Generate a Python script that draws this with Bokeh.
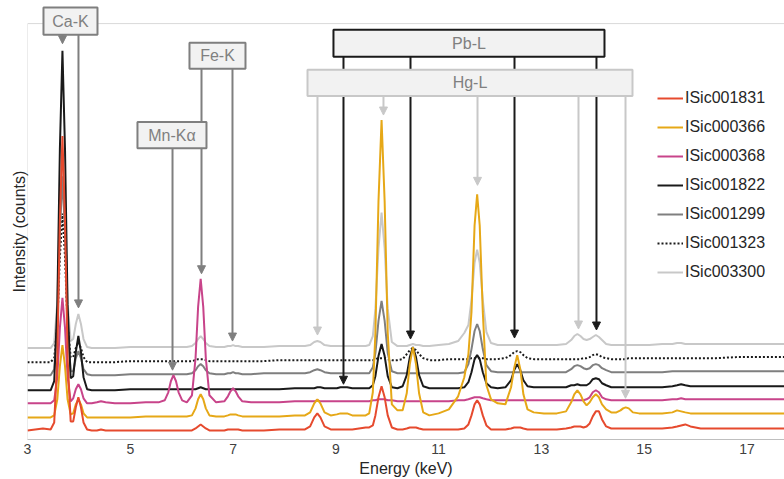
from bokeh.plotting import figure
from bokeh.models import Range1d, FixedTicker, Legend, LegendItem, Arrow, NormalHead, Title
from bokeh.core.properties import value
from bokeh.embed import file_html
from bokeh.resources import INLINE

# ---------------- data ----------------
energy_kev = [
    3.0, 3.15, 3.3, 3.45,
    3.52, 3.58, 3.63, 3.68, 3.73, 3.78,
    3.84, 3.89, 3.94, 3.99, 4.04, 4.09, 4.16,
    4.25, 4.35, 4.43, 4.52, 4.7, 5.0, 5.3, 5.55,
    5.67, 5.74, 5.79, 5.84, 5.89, 5.94, 6.01,
    6.1, 6.2, 6.27, 6.32, 6.37, 6.42, 6.47, 6.54,
    6.67, 6.83, 6.9, 6.95, 7.0, 7.05, 7.1, 7.18,
    7.35, 7.6, 7.9, 8.2, 8.4,
    8.5, 8.58, 8.64, 8.7, 8.78, 8.9,
    9.02, 9.09, 9.15, 9.22, 9.32, 9.45, 9.58, 9.65, 9.72,
    9.77, 9.83, 9.89, 9.95, 10.01, 10.09, 10.2, 10.3,
    10.38, 10.44, 10.5, 10.56, 10.62, 10.7, 10.82,
    11.0, 11.2, 11.38, 11.5,
    11.58, 11.64, 11.7, 11.75, 11.8, 11.86, 11.93, 12.02,
    12.15, 12.3, 12.41, 12.47, 12.53, 12.59, 12.65, 12.73, 12.85,
    13.05, 13.3, 13.48,
    13.58, 13.64, 13.7, 13.76, 13.82, 13.88,
    13.94, 14.0, 14.06, 14.12, 14.18, 14.26, 14.36, 14.46,
    14.54, 14.59, 14.64, 14.7, 14.78, 14.9,
    15.1, 15.35, 15.55, 15.64, 15.72, 15.8, 15.9,
    16.1, 16.4, 16.8, 17.2, 17.5, 17.8,
]

isic001831 = [
    9, 10, 11, 10,
    17, 82, 217, 302, 217, 82,
    18, 18, 32, 42, 32, 17, 10,
    9, 9, 10, 9, 9, 9, 9, 9,
    9, 9, 9, 9, 9, 9, 9,
    9, 9, 11, 13, 15, 13, 11, 9,
    9, 9, 10, 10, 10, 10, 10, 9,
    9, 9, 10, 10, 10,
    13, 22, 26, 22, 13, 10,
    10, 10, 10, 10, 10, 11, 12, 12, 14,
    24, 42, 53, 42, 24, 12, 10, 10,
    11, 12, 12, 12, 11, 10, 10,
    10, 10, 10, 11,
    15, 24, 35, 39, 35, 24, 14, 10,
    10, 10, 11, 12, 12, 12, 11, 10, 10,
    10, 10, 11,
    12, 13, 13, 13, 12, 13,
    16, 23, 28, 28, 20, 13, 11, 11,
    11, 11, 11, 11, 11, 11,
    11, 11, 12, 13, 14, 15, 13,
    11, 11, 11, 11, 11, 11,
]

isic000366 = [
    22, 22, 22, 22,
    24, 40, 73, 94, 73, 40,
    25, 26, 35, 40, 35, 26, 22,
    22, 22, 22, 22, 22, 22, 23, 23,
    23, 23, 23, 23, 23, 23, 23,
    23, 24, 31, 40, 45, 40, 31, 24,
    23, 23, 24, 25, 25, 25, 24, 23,
    23, 23, 23, 24, 24,
    27, 36, 40, 36, 27, 24,
    25, 26, 26, 26, 24, 24, 24, 26, 47,
    106, 237, 318, 237, 106, 35, 29, 29,
    46, 75, 92, 75, 46, 27, 24,
    26, 30, 43, 62,
    85, 127, 213, 244, 213, 127, 54, 40,
    36, 35, 52, 71, 84, 70, 45, 30, 27,
    26, 26, 28,
    37, 45, 49, 45, 38, 34,
    37, 42, 45, 42, 35, 30, 27, 27,
    29, 31, 32, 31, 27, 26,
    26, 26, 27, 29, 28, 27, 26,
    26, 26, 26, 26, 26, 26,
]

isic000368 = [
    36, 36, 36, 36,
    39, 62, 111, 141, 111, 62,
    38, 41, 50, 55, 50, 41, 36,
    36, 37, 38, 37, 36, 36, 37, 37,
    39, 47, 58, 64, 58, 47, 39,
    37, 44, 81, 132, 160, 132, 81, 44,
    37, 38, 43, 48, 51, 48, 43, 38,
    37, 37, 37, 38, 38,
    38, 38, 39, 38, 38, 38,
    38, 38, 38, 38, 38, 38, 38, 38, 39,
    39, 40, 40, 40, 39, 39, 38, 38,
    38, 38, 38, 38, 38, 38, 38,
    38, 38, 39, 39,
    40, 41, 42, 42, 42, 41, 40, 39,
    39, 39, 39, 39, 39, 39, 39, 39, 39,
    39, 39, 39,
    39, 39, 39, 39, 39, 40,
    42, 47, 49, 47, 42, 40, 39, 39,
    39, 39, 39, 39, 39, 39,
    39, 39, 40, 40, 41, 40, 40,
    40, 40, 40, 40, 40, 40,
]

isic001822 = [
    49, 49, 49, 49,
    58, 134, 289, 387, 289, 134,
    61, 63, 87, 103, 87, 62, 50,
    49, 49, 49, 49, 49, 50, 50, 50,
    50, 50, 50, 50, 50, 50, 50,
    50, 50, 50, 51, 52, 51, 50, 50,
    50, 50, 50, 50, 50, 50, 50, 50,
    50, 50, 50, 51, 51,
    51, 51, 52, 52, 51, 51,
    51, 52, 52, 52, 51, 51, 51, 51, 54,
    63, 83, 95, 83, 63, 52, 51, 53,
    64, 82, 92, 82, 64, 53, 51,
    51, 51, 51, 52,
    57, 67, 80, 84, 80, 67, 56, 52,
    51, 52, 59, 69, 75, 69, 59, 53, 52,
    52, 52, 52,
    54, 54, 55, 54, 54, 54,
    56, 60, 61, 60, 56, 54, 52, 52,
    52, 52, 52, 52, 52, 52,
    52, 52, 53, 54, 55, 54, 53,
    53, 53, 53, 53, 53, 53,
]

isic001299 = [
    64, 64, 64, 64,
    70, 114, 205, 262, 205, 114,
    68, 68, 81, 88, 81, 70, 65,
    64, 64, 64, 64, 64, 65, 65, 65,
    65, 65, 65, 65, 65, 65, 65,
    65, 66, 69, 73, 75, 73, 69, 66,
    65, 65, 66, 66, 67, 66, 66, 65,
    65, 66, 66, 66, 66,
    67, 69, 70, 69, 67, 66,
    66, 66, 66, 66, 66, 66, 66, 66, 72,
    86, 118, 138, 118, 86, 68, 66, 66,
    66, 66, 66, 66, 66, 66, 66,
    66, 66, 66, 67,
    75, 90, 108, 115, 108, 90, 74, 68,
    67, 67, 67, 67, 67, 67, 67, 67, 67,
    67, 67, 67,
    70, 73, 74, 73, 71, 70,
    71, 74, 75, 74, 71, 69, 67, 67,
    67, 67, 67, 67, 67, 67,
    67, 67, 68, 68, 68, 68, 68,
    68, 68, 68, 68, 68, 68,
]

isic001323 = [
    77, 77, 77, 77,
    81, 114, 182, 225, 182, 114,
    82, 82, 91, 97, 91, 82, 77,
    77, 77, 77, 77, 77, 78, 78, 78,
    78, 78, 78, 78, 78, 78, 78,
    78, 78, 79, 80, 80, 80, 79, 78,
    78, 78, 78, 78, 78, 78, 78, 78,
    78, 78, 79, 79, 79,
    79, 79, 79, 79, 79, 79,
    79, 79, 79, 79, 79, 79, 79, 79, 79,
    80, 81, 81, 81, 80, 79, 79, 80,
    85, 89, 91, 89, 85, 81, 79,
    79, 80, 80, 80,
    80, 81, 81, 81, 81, 81, 80, 80,
    80, 81, 84, 87, 88, 87, 84, 81, 80,
    80, 80, 80,
    80, 80, 80, 80, 81, 81,
    82, 84, 85, 84, 82, 81, 80, 80,
    80, 80, 80, 81, 81, 81,
    81, 81, 81, 81, 81, 81, 81,
    81, 81, 82, 82, 82, 82,
]

isic003300 = [
    91, 91, 91, 91,
    96, 137, 222, 275, 222, 137,
    98, 100, 115, 125, 115, 100, 92,
    91, 91, 91, 91, 91, 92, 92, 92,
    92, 92, 92, 92, 92, 92, 92,
    92, 93, 96, 100, 103, 100, 96, 93,
    92, 92, 93, 93, 94, 93, 93, 92,
    92, 92, 93, 93, 93,
    94, 97, 98, 97, 94, 93,
    93, 93, 93, 93, 93, 93, 93, 94, 103,
    130, 190, 226, 190, 130, 97, 93, 93,
    93, 94, 95, 94, 94, 93, 93,
    94, 95, 98, 106,
    114, 139, 176, 189, 176, 139, 107, 96,
    94, 94, 94, 94, 94, 94, 94, 94, 94,
    94, 94, 95,
    99, 103, 105, 103, 100, 99,
    100, 102, 104, 102, 99, 95, 94, 94,
    94, 94, 94, 94, 94, 94,
    94, 95, 95, 96, 96, 95, 95,
    95, 95, 95, 95, 95, 95,
]

series_names = ["ISic001831", "ISic000366", "ISic000368", "ISic001822",
                "ISic001299", "ISic001323", "ISic003300"]
x_ticks = [3, 5, 7, 9, 11, 13, 15, 17]

# emission-line labels and their marked energies (keV)
line_labels = ["Ca-K", "Mn-K\u03b1", "Fe-K", "Pb-L", "Hg-L"]
ca_k_lines = [3.681, 3.992]
mn_ka_lines = [5.822]
fe_k_lines = [6.386, 6.989]
pb_l_lines = [9.149, 10.453, 12.477, 14.072]
hg_l_lines = [8.643, 9.927, 11.757, 13.722, 14.637]

# ---------------- figure ----------------
FONT = "Liberation Sans"
W, H = 784, 479
X_END = 17.731
p = figure(width=W, height=H,
           x_range=Range1d(3, X_END), y_range=Range1d(0, 437),
           output_backend="svg", toolbar_location=None,
           min_border=0, min_border_left=27)
p.outline_line_color = None
p.xgrid.visible = False
p.ygrid.visible = False
p.background_fill_color = "white"

p.xaxis.ticker = FixedTicker(ticks=x_ticks)
p.xaxis.major_tick_line_color = None
p.xaxis.major_tick_out = 0
p.xaxis.major_tick_in = 0
p.xaxis.minor_tick_line_color = None
p.xaxis.axis_line_color = "#BFBFBF"
p.xaxis.major_label_standoff = 4
p.xaxis.major_label_text_font = FONT
p.xaxis.major_label_text_font_size = "14px"
p.xaxis.major_label_text_color = "#404040"
p.xaxis.axis_label = "Energy (keV)"
p.xaxis.axis_label_text_font = FONT
p.xaxis.axis_label_text_font_size = "16px"
p.xaxis.axis_label_text_font_style = "normal"
p.xaxis.axis_label_text_color = "#262626"
p.xaxis.axis_label_standoff = 3

p.yaxis.ticker = FixedTicker(ticks=[])
p.yaxis.major_tick_line_color = None
p.yaxis.major_tick_out = 0
p.yaxis.major_tick_in = 0
p.yaxis.minor_tick_line_color = None
p.yaxis.major_label_standoff = 0
p.yaxis.axis_line_color = None

# y-axis title, centred on the visible frame (frame top border is 23 px below the top)
p.add_layout(Title(text="Intensity (counts)", align="left", offset=147, standoff=0,
                   text_font=FONT, text_font_size="16px", text_font_style="normal",
                   text_color="#262626"), "left")

# light frame border (left and top)
p.segment(x0=[3.0, 3.0], y0=[0, 414], x1=[3.0, X_END], y1=[414, 414],
          line_color="#D9D9D9", line_width=1)

# ---------------- spectra ----------------
styles = {
    "ISic001831": dict(color="#E64A2E", dash="solid", data=isic001831),
    "ISic000366": dict(color="#E6A817", dash="solid", data=isic000366),
    "ISic000368": dict(color="#C8448A", dash="solid", data=isic000368),
    "ISic001822": dict(color="#1A1A1A", dash="solid", data=isic001822),
    "ISic001299": dict(color="#7F7F7F", dash="solid", data=isic001299),
    "ISic001323": dict(color="#1A1A1A", dash="2 2", data=isic001323),
    "ISic003300": dict(color="#C8C8C8", dash="solid", data=isic003300),
}
draw_order = ["ISic003300", "ISic001323", "ISic001299", "ISic001822",
              "ISic000368", "ISic000366", "ISic001831"]
renderers = {}
for name in draw_order:
    s = styles[name]
    renderers[name] = p.line(energy_kev, s["data"], line_color=s["color"],
                             line_width=2, line_dash=s["dash"])

legend = Legend(items=[LegendItem(label=n, renderers=[renderers[n]]) for n in series_names],
                location=(630, 157), glyph_width=26, glyph_height=20,
                label_height=20, spacing=9, label_standoff=2, padding=0, margin=0,
                border_line_color=None, background_fill_alpha=0,
                label_text_font=FONT, label_text_font_size="16px",
                label_text_color="#262626")
p.add_layout(legend)

# ---------------- annotations ----------------
GRAY, BLACK, LIGHT = "#7F7F7F", "#1A1A1A", "#C8C8C8"


def arrows(energies, y_start, tips, color):
    for e, t in zip(energies, tips):
        p.add_layout(Arrow(end=NormalHead(size=8, fill_color=color, line_color=color, line_width=1),
                           x_start=e, y_start=y_start, x_end=e, y_end=t,
                           line_color=color, line_width=2))


arrows(ca_k_lines, 403, [394, 131], GRAY)
arrows(fe_k_lines, 369, [165, 98], GRAY)
arrows(mn_ka_lines, 290, [69], GRAY)
arrows(pb_l_lines, 381, [55, 100, 101, 109], BLACK)
arrows(hg_l_lines, 342, [104, 323, 253, 110, 41], LIGHT)

boxes = [  # label, left, right, bottom, top, border colour
    ("Ca-K", 3.311, 4.362, 403, 430, GRAY),
    ("Fe-K", 6.152, 7.242, 369, 395, GRAY),
    ("Mn-K\u03b1", 5.140, 6.483, 290, 316, GRAY),
    ("Pb-L", 8.954, 14.228, 381, 408, BLACK),
    ("Hg-L", 8.449, 14.773, 342, 368, LIGHT),
]
for lab, l, r, b, t, c in boxes:
    p.quad(left=[l], right=[r], bottom=[b], top=[t], fill_color="#F2F2F2",
           line_color=c, line_width=2, level="overlay")
    p.text(x=[(l + r) / 2], y=[(b + t) / 2], text=[lab], text_font=value(FONT),
           text_font_size=value("16px"), text_color="#808080", text_align="center",
           text_baseline="middle", level="overlay")

open("out.html", "w").write(file_html(p, INLINE))
